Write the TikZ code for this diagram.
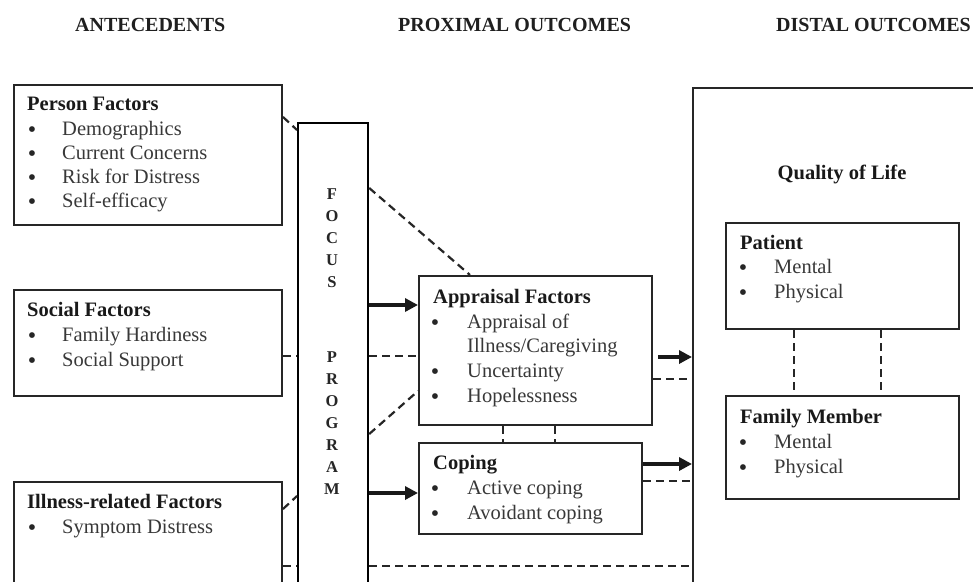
\documentclass[tikz,border=0pt]{standalone}
\usepackage{fontspec}
\setmainfont{Liberation Serif}
\usetikzlibrary{arrows.meta}
\newcommand{\bitem}[5]{%
  \node[bul] (#1b) at (#2,#4) {\textbullet};
  \node[itm] (#1) at (#3,#4) {#5};}
\begin{document}
\begin{tikzpicture}[x=1pt,y=-1pt,
  box/.style={draw=black!85, line width=2pt, inner sep=0pt, anchor=north west},
  ttl/.style={font=\fontsize{20.5}{24}\selectfont\bfseries, text=black!90, anchor=base west, inner sep=0pt},
  itm/.style={font=\fontsize{20.5}{24}\selectfont, text=black!78, anchor=base west, inner sep=0pt},
  bul/.style={font=\fontsize{24}{24}\selectfont, text=black!85, anchor=base, inner sep=0pt, yshift=-2.2pt},
  hd/.style={font=\fontsize{20}{24}\selectfont\bfseries, text=black!88, anchor=base west, inner sep=0pt},
  ltr/.style={font=\fontsize{16.5}{18}\selectfont\bfseries, text=black!85, anchor=base, inner sep=0pt},
  dsh/.style={line width=2.2pt, dash pattern=on 8pt off 5pt, black!85},
  arr/.style={line width=3.4pt, black!90, -{Triangle[length=13pt,width=13pt]}}]
\useasboundingbox[fill=white] (0,0) rectangle (973,581);

% headings
\node[hd] (h1) at (75,31) {ANTECEDENTS};
\node[hd] (h2) at (398,31) {PROXIMAL OUTCOMES};
\node[hd] (h3) at (776,31) {DISTAL OUTCOMES};

% boxes
\node[box, minimum width=268pt, minimum height=140pt] (person) at (13,84) {};
\node[box, minimum width=268pt, minimum height=106pt] (social) at (13,289) {};
\node[box, minimum width=268pt, minimum height=140pt] (illness) at (13,481) {};
\node[box, draw=black, line width=2.2pt, minimum width=70pt, minimum height=500pt] (focus) at (297,122) {};
\node[box, minimum width=233pt, minimum height=149pt] (appr) at (418,275) {};
\node[box, minimum width=223pt, minimum height=91pt] (coping) at (418,442) {};
\node[box, minimum width=330pt, minimum height=530pt] (distal) at (692,87) {};
\node[box, minimum width=233pt, minimum height=106pt] (patient) at (725,222) {};
\node[box, minimum width=233pt, minimum height=103pt] (family) at (725,395) {};

% Person factors
\node[ttl] (pt) at (27,110) {Person Factors};
\bitem{p1}{32}{62}{135}{Demographics}
\bitem{p2}{32}{62}{159}{Current Concerns}
\bitem{p3}{32}{62}{183}{Risk for Distress}
\bitem{p4}{32}{62}{207}{Self-efficacy}

% Social factors
\node[ttl] (st) at (27,316) {Social Factors};
\bitem{s1}{32}{62}{341}{Family Hardiness}
\bitem{s2}{32}{62}{366}{Social Support}

% Illness-related factors
\node[ttl] (it) at (27,508) {Illness-related Factors};
\bitem{i1}{32}{62}{533}{Symptom Distress}

% Focus program letters
\foreach \l/\yy [count=\i] in {F/199,O/221,C/243,U/265,S/287,P/362,R/384,O/406,G/428,R/450,A/472,M/494}
  \node[ltr] (fl\i) at (332,\yy) {\l};

% Appraisal factors
\node[ttl] (at) at (433,303) {Appraisal Factors};
\bitem{a1}{435}{467}{328}{Appraisal of}
\node[itm] (a1x) at (467,352) {Illness/Caregiving};
\bitem{a2}{435}{467}{377}{Uncertainty}
\bitem{a3}{435}{467}{402}{Hopelessness}

% Coping
\node[ttl] (ct) at (433,469) {Coping};
\bitem{c1}{435}{467}{494}{Active coping}
\bitem{c2}{435}{467}{519}{Avoidant coping}

% Distal
\node[ttl, anchor=base] (qol) at (842,179) {Quality of Life};
\node[ttl] (pat) at (740,249) {Patient};
\bitem{q1}{743}{774}{273}{Mental}
\bitem{q2}{743}{774}{298}{Physical}
\node[ttl] (fam) at (740,423) {Family Member};
\bitem{q3}{743}{774}{448}{Mental}
\bitem{q4}{743}{774}{473}{Physical}

% dashed connectors
\draw[dsh] (person.east |- 0,117) -- (focus.west |- 0,130);
\draw[dsh] (focus.east |- 0,188) -- (appr.north -| 470,0);
\draw[dsh] (social.east |- 0,356) -- (focus.west |- 0,356);
\draw[dsh] (focus.east |- 0,356) -- (appr.west |- 0,356);
\draw[dsh] (focus.east |- 0,434) -- (appr.west |- 0,391);
\draw[dsh] (illness.east |- 0,509) -- (focus.west |- 0,496);
\draw[dsh] (illness.east |- 0,566) -- (focus.west |- 0,566);
\draw[dsh] (focus.east |- 0,566) -- (distal.west |- 0,566);
\draw[dsh] (appr.east |- 0,379) -- (distal.west |- 0,379);
\draw[dsh] (coping.east |- 0,481) -- (distal.west |- 0,481);
\draw[dsh] (appr.south -| 503,0) -- (coping.north -| 503,0);
\draw[dsh] (appr.south -| 555,0) -- (coping.north -| 555,0);
\draw[dsh] (patient.south -| 794,0) -- (family.north -| 794,0);
\draw[dsh] (patient.south -| 881,0) -- (family.north -| 881,0);

% solid arrows
\coordinate (ae) at (658,357);
\draw[arr] (focus.east |- 0,305) -- (appr.west |- 0,305);
\draw[arr] (focus.east |- 0,493) -- (coping.west |- 0,493);
\draw[arr] (ae) -- (distal.west |- ae);
\draw[arr] (coping.east |- 0,464) -- (distal.west |- 0,464);
\end{tikzpicture}
\end{document}
